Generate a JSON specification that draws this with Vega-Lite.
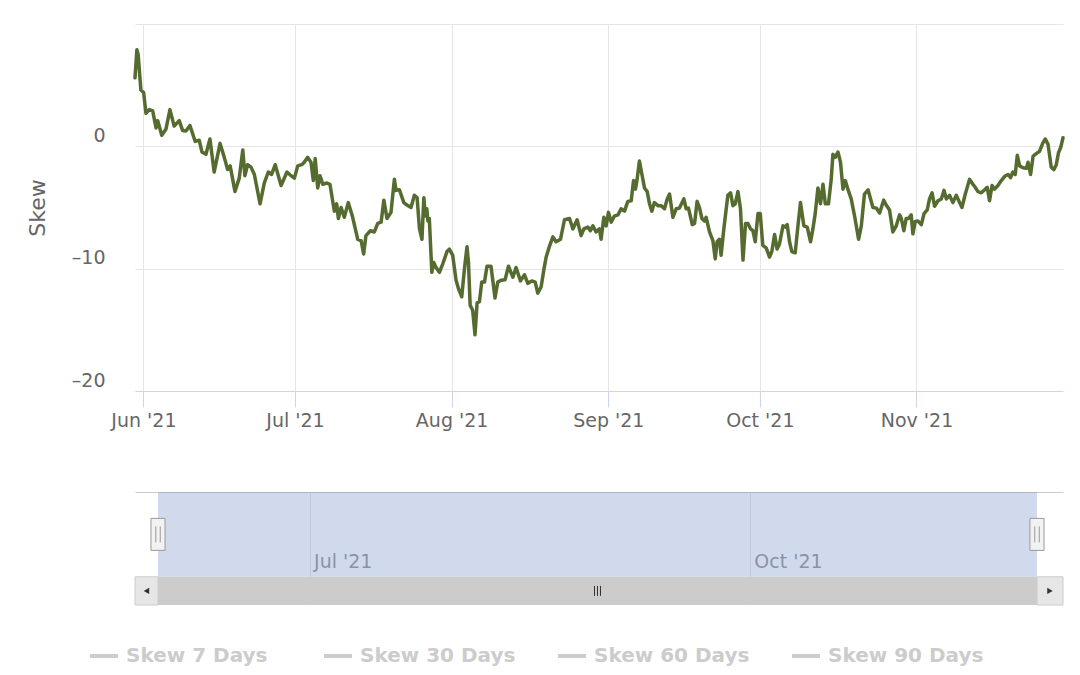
{
  "$schema": "https://vega.github.io/schema/vega-lite/v6.json",
  "background": "white",
  "padding": {"left": 26, "top": 4, "right": 18, "bottom": 1},
  "config": {
    "view": {"stroke": null},
    "font": "DejaVu Sans",
    "axis": {"labelFont": "DejaVu Sans", "titleFont": "DejaVu Sans"},
    "legend": {"labelFont": "DejaVu Sans"}
  },
  "datasets": {
    "skew": [
      {"date":"2021-05-30T08:00","skew":5.6},
      {"date":"2021-05-30T17:00","skew":7.9},
      {"date":"2021-05-30T23:00","skew":7.5},
      {"date":"2021-05-31T12:00","skew":4.6},
      {"date":"2021-06-01T01:00","skew":4.4},
      {"date":"2021-06-01T12:00","skew":2.7},
      {"date":"2021-06-02T04:00","skew":3.0},
      {"date":"2021-06-02T20:00","skew":2.9},
      {"date":"2021-06-03T12:00","skew":1.5},
      {"date":"2021-06-03T20:00","skew":2.1},
      {"date":"2021-06-04T15:00","skew":0.9},
      {"date":"2021-06-05T11:00","skew":1.4},
      {"date":"2021-06-06T06:00","skew":3.0},
      {"date":"2021-06-07T02:00","skew":1.65},
      {"date":"2021-06-08T02:00","skew":2.1},
      {"date":"2021-06-08T18:00","skew":1.3},
      {"date":"2021-06-09T10:00","skew":1.25},
      {"date":"2021-06-10T05:00","skew":1.7},
      {"date":"2021-06-11T06:00","skew":0.4},
      {"date":"2021-06-12T01:00","skew":0.5},
      {"date":"2021-06-12T14:00","skew":-0.46},
      {"date":"2021-06-13T09:00","skew":-0.65},
      {"date":"2021-06-14T04:00","skew":0.6},
      {"date":"2021-06-15T00:00","skew":-2.1},
      {"date":"2021-06-16T04:00","skew":0.24},
      {"date":"2021-06-17T00:00","skew":-0.9},
      {"date":"2021-06-17T16:00","skew":-1.9},
      {"date":"2021-06-18T04:00","skew":-1.6},
      {"date":"2021-06-19T03:00","skew":-3.7},
      {"date":"2021-06-19T23:00","skew":-2.6},
      {"date":"2021-06-20T16:00","skew":-0.3},
      {"date":"2021-06-21T02:00","skew":-2.4},
      {"date":"2021-06-21T15:00","skew":-1.5},
      {"date":"2021-06-22T07:00","skew":-1.7},
      {"date":"2021-06-22T23:00","skew":-2.3},
      {"date":"2021-06-24T02:00","skew":-4.7},
      {"date":"2021-06-24T22:00","skew":-3.0},
      {"date":"2021-06-25T17:00","skew":-2.1},
      {"date":"2021-06-26T09:00","skew":-2.3},
      {"date":"2021-06-27T02:00","skew":-1.5},
      {"date":"2021-06-28T06:00","skew":-3.2},
      {"date":"2021-06-29T10:00","skew":-2.1},
      {"date":"2021-06-30T05:00","skew":-2.4},
      {"date":"2021-06-30T21:00","skew":-2.6},
      {"date":"2021-07-01T13:00","skew":-1.6},
      {"date":"2021-07-02T08:00","skew":-1.5},
      {"date":"2021-07-02T20:00","skew":-1.3},
      {"date":"2021-07-03T12:00","skew":-0.9},
      {"date":"2021-07-04T04:00","skew":-1.3},
      {"date":"2021-07-04T15:00","skew":-2.8},
      {"date":"2021-07-05T00:00","skew":-1.0},
      {"date":"2021-07-05T12:00","skew":-3.4},
      {"date":"2021-07-05T23:00","skew":-2.4},
      {"date":"2021-07-06T12:00","skew":-3.1},
      {"date":"2021-07-07T08:00","skew":-3.0},
      {"date":"2021-07-07T22:00","skew":-3.1},
      {"date":"2021-07-08T19:00","skew":-5.3},
      {"date":"2021-07-09T06:00","skew":-4.7},
      {"date":"2021-07-09T14:00","skew":-5.9},
      {"date":"2021-07-10T03:00","skew":-5.0},
      {"date":"2021-07-10T18:00","skew":-5.8},
      {"date":"2021-07-11T13:00","skew":-4.6},
      {"date":"2021-07-12T10:00","skew":-5.8},
      {"date":"2021-07-13T10:00","skew":-7.6},
      {"date":"2021-07-14T02:00","skew":-7.7},
      {"date":"2021-07-14T14:00","skew":-8.8},
      {"date":"2021-07-15T01:00","skew":-7.3},
      {"date":"2021-07-15T22:00","skew":-6.9},
      {"date":"2021-07-16T17:00","skew":-7.0},
      {"date":"2021-07-17T09:00","skew":-6.3},
      {"date":"2021-07-18T01:00","skew":-6.2},
      {"date":"2021-07-18T14:00","skew":-4.4},
      {"date":"2021-07-19T05:00","skew":-5.9},
      {"date":"2021-07-20T00:00","skew":-5.4},
      {"date":"2021-07-20T16:00","skew":-2.7},
      {"date":"2021-07-21T00:00","skew":-3.6},
      {"date":"2021-07-21T16:00","skew":-3.55},
      {"date":"2021-07-22T13:00","skew":-4.6},
      {"date":"2021-07-23T04:00","skew":-4.8},
      {"date":"2021-07-23T23:00","skew":-5.0},
      {"date":"2021-07-24T15:00","skew":-4.0},
      {"date":"2021-07-25T04:00","skew":-4.2},
      {"date":"2021-07-25T15:00","skew":-6.7},
      {"date":"2021-07-26T03:00","skew":-7.6},
      {"date":"2021-07-26T12:00","skew":-4.2},
      {"date":"2021-07-26T19:00","skew":-5.7},
      {"date":"2021-07-27T02:00","skew":-5.1},
      {"date":"2021-07-27T07:00","skew":-6.1},
      {"date":"2021-07-27T14:00","skew":-5.9},
      {"date":"2021-07-28T02:00","skew":-10.3},
      {"date":"2021-07-28T11:00","skew":-9.5},
      {"date":"2021-07-28T22:00","skew":-9.9},
      {"date":"2021-07-29T14:00","skew":-10.3},
      {"date":"2021-07-30T06:00","skew":-9.6},
      {"date":"2021-07-31T02:00","skew":-8.6},
      {"date":"2021-07-31T13:00","skew":-8.4},
      {"date":"2021-08-01T05:00","skew":-8.9},
      {"date":"2021-08-01T21:00","skew":-10.95},
      {"date":"2021-08-02T08:00","skew":-11.6},
      {"date":"2021-08-03T00:00","skew":-12.3},
      {"date":"2021-08-03T13:00","skew":-10.0},
      {"date":"2021-08-04T01:00","skew":-8.2},
      {"date":"2021-08-04T08:00","skew":-9.5},
      {"date":"2021-08-04T16:00","skew":-13.0},
      {"date":"2021-08-05T04:00","skew":-13.4},
      {"date":"2021-08-05T15:00","skew":-15.4},
      {"date":"2021-08-06T01:00","skew":-12.8},
      {"date":"2021-08-06T12:00","skew":-12.7},
      {"date":"2021-08-06T23:00","skew":-11.1},
      {"date":"2021-08-07T12:00","skew":-11.1},
      {"date":"2021-08-08T00:00","skew":-9.8},
      {"date":"2021-08-08T19:00","skew":-9.8},
      {"date":"2021-08-09T14:00","skew":-12.4},
      {"date":"2021-08-10T03:00","skew":-11.1},
      {"date":"2021-08-10T19:00","skew":-10.95},
      {"date":"2021-08-11T14:00","skew":-10.9},
      {"date":"2021-08-12T06:00","skew":-9.8},
      {"date":"2021-08-13T03:00","skew":-10.7},
      {"date":"2021-08-13T18:00","skew":-9.9},
      {"date":"2021-08-14T15:00","skew":-11.0},
      {"date":"2021-08-15T10:00","skew":-10.5},
      {"date":"2021-08-16T02:00","skew":-11.2},
      {"date":"2021-08-16T21:00","skew":-11.0},
      {"date":"2021-08-17T13:00","skew":-11.1},
      {"date":"2021-08-18T01:00","skew":-12.0},
      {"date":"2021-08-18T17:00","skew":-11.5},
      {"date":"2021-08-19T06:00","skew":-10.1},
      {"date":"2021-08-19T17:00","skew":-9.05},
      {"date":"2021-08-20T08:00","skew":-8.2},
      {"date":"2021-08-21T01:00","skew":-7.4},
      {"date":"2021-08-21T16:00","skew":-7.8},
      {"date":"2021-08-22T13:00","skew":-7.6},
      {"date":"2021-08-23T08:00","skew":-6.0},
      {"date":"2021-08-24T08:00","skew":-5.9},
      {"date":"2021-08-25T00:00","skew":-6.75},
      {"date":"2021-08-25T20:00","skew":-6.0},
      {"date":"2021-08-26T15:00","skew":-7.3},
      {"date":"2021-08-27T04:00","skew":-6.75},
      {"date":"2021-08-27T23:00","skew":-6.6},
      {"date":"2021-08-28T11:00","skew":-6.9},
      {"date":"2021-08-28T23:00","skew":-6.5},
      {"date":"2021-08-29T14:00","skew":-7.0},
      {"date":"2021-08-30T06:00","skew":-6.75},
      {"date":"2021-08-30T14:00","skew":-7.6},
      {"date":"2021-08-31T03:00","skew":-5.8},
      {"date":"2021-08-31T14:00","skew":-6.5},
      {"date":"2021-09-01T01:00","skew":-5.4},
      {"date":"2021-09-01T14:00","skew":-6.2},
      {"date":"2021-09-02T05:00","skew":-5.7},
      {"date":"2021-09-02T22:00","skew":-5.6},
      {"date":"2021-09-03T13:00","skew":-5.1},
      {"date":"2021-09-04T05:00","skew":-5.3},
      {"date":"2021-09-04T21:00","skew":-4.5},
      {"date":"2021-09-05T13:00","skew":-4.45},
      {"date":"2021-09-06T00:00","skew":-2.8},
      {"date":"2021-09-06T09:00","skew":-3.5},
      {"date":"2021-09-06T17:00","skew":-2.7},
      {"date":"2021-09-07T04:00","skew":-1.2},
      {"date":"2021-09-07T16:00","skew":-2.3},
      {"date":"2021-09-08T04:00","skew":-3.4},
      {"date":"2021-09-08T17:00","skew":-3.7},
      {"date":"2021-09-09T04:00","skew":-4.7},
      {"date":"2021-09-09T15:00","skew":-5.3},
      {"date":"2021-09-10T03:00","skew":-4.6},
      {"date":"2021-09-10T20:00","skew":-4.85},
      {"date":"2021-09-11T11:00","skew":-4.85},
      {"date":"2021-09-12T03:00","skew":-5.1},
      {"date":"2021-09-12T16:00","skew":-4.3},
      {"date":"2021-09-13T03:00","skew":-3.9},
      {"date":"2021-09-13T19:00","skew":-5.8},
      {"date":"2021-09-14T11:00","skew":-5.1},
      {"date":"2021-09-15T02:00","skew":-5.05},
      {"date":"2021-09-15T23:00","skew":-4.3},
      {"date":"2021-09-16T10:00","skew":-5.1},
      {"date":"2021-09-16T21:00","skew":-5.05},
      {"date":"2021-09-17T15:00","skew":-6.4},
      {"date":"2021-09-18T02:00","skew":-6.3},
      {"date":"2021-09-18T14:00","skew":-4.5},
      {"date":"2021-09-19T01:00","skew":-5.0},
      {"date":"2021-09-19T13:00","skew":-5.9},
      {"date":"2021-09-20T01:00","skew":-6.1},
      {"date":"2021-09-20T09:00","skew":-5.8},
      {"date":"2021-09-21T01:00","skew":-7.0},
      {"date":"2021-09-21T17:00","skew":-7.7},
      {"date":"2021-09-22T04:00","skew":-9.2},
      {"date":"2021-09-22T13:00","skew":-7.8},
      {"date":"2021-09-23T00:00","skew":-7.6},
      {"date":"2021-09-23T08:00","skew":-8.9},
      {"date":"2021-09-23T21:00","skew":-6.75},
      {"date":"2021-09-24T16:00","skew":-4.0},
      {"date":"2021-09-25T05:00","skew":-3.8},
      {"date":"2021-09-25T16:00","skew":-4.85},
      {"date":"2021-09-26T03:00","skew":-4.7},
      {"date":"2021-09-26T16:00","skew":-3.7},
      {"date":"2021-09-27T04:00","skew":-5.1},
      {"date":"2021-09-27T16:00","skew":-9.3},
      {"date":"2021-09-28T04:00","skew":-6.3},
      {"date":"2021-09-28T15:00","skew":-6.3},
      {"date":"2021-09-29T04:00","skew":-6.75},
      {"date":"2021-09-29T15:00","skew":-6.9},
      {"date":"2021-09-30T02:00","skew":-7.8},
      {"date":"2021-09-30T15:00","skew":-5.5},
      {"date":"2021-10-01T02:00","skew":-5.5},
      {"date":"2021-10-01T14:00","skew":-8.1},
      {"date":"2021-10-02T06:00","skew":-8.3},
      {"date":"2021-10-02T22:00","skew":-9.05},
      {"date":"2021-10-03T09:00","skew":-8.6},
      {"date":"2021-10-03T22:00","skew":-7.2},
      {"date":"2021-10-04T10:00","skew":-8.4},
      {"date":"2021-10-04T21:00","skew":-8.0},
      {"date":"2021-10-05T14:00","skew":-6.5},
      {"date":"2021-10-06T01:00","skew":-6.6},
      {"date":"2021-10-06T10:00","skew":-6.4},
      {"date":"2021-10-06T21:00","skew":-7.8},
      {"date":"2021-10-07T08:00","skew":-8.6},
      {"date":"2021-10-08T00:00","skew":-8.7},
      {"date":"2021-10-08T13:00","skew":-6.5},
      {"date":"2021-10-09T01:00","skew":-4.6},
      {"date":"2021-10-09T17:00","skew":-6.5},
      {"date":"2021-10-10T09:00","skew":-6.6},
      {"date":"2021-10-11T01:00","skew":-7.8},
      {"date":"2021-10-11T12:00","skew":-6.75},
      {"date":"2021-10-11T23:00","skew":-5.5},
      {"date":"2021-10-12T12:00","skew":-3.4},
      {"date":"2021-10-13T00:00","skew":-4.7},
      {"date":"2021-10-13T12:00","skew":-3.1},
      {"date":"2021-10-13T23:00","skew":-4.7},
      {"date":"2021-10-14T14:00","skew":-4.7},
      {"date":"2021-10-15T03:00","skew":-2.7},
      {"date":"2021-10-15T11:00","skew":-0.65},
      {"date":"2021-10-15T22:00","skew":-0.9},
      {"date":"2021-10-16T11:00","skew":-0.46},
      {"date":"2021-10-16T23:00","skew":-1.3},
      {"date":"2021-10-17T11:00","skew":-3.5},
      {"date":"2021-10-17T22:00","skew":-2.8},
      {"date":"2021-10-18T10:00","skew":-3.5},
      {"date":"2021-10-19T02:00","skew":-4.3},
      {"date":"2021-10-19T18:00","skew":-5.7},
      {"date":"2021-10-20T13:00","skew":-7.6},
      {"date":"2021-10-21T02:00","skew":-6.5},
      {"date":"2021-10-21T17:00","skew":-3.9},
      {"date":"2021-10-22T10:00","skew":-3.55},
      {"date":"2021-10-22T22:00","skew":-4.3},
      {"date":"2021-10-23T09:00","skew":-5.0},
      {"date":"2021-10-24T01:00","skew":-5.05},
      {"date":"2021-10-24T17:00","skew":-5.45},
      {"date":"2021-10-25T12:00","skew":-4.4},
      {"date":"2021-10-26T00:00","skew":-4.8},
      {"date":"2021-10-26T16:00","skew":-5.2},
      {"date":"2021-10-27T08:00","skew":-7.0},
      {"date":"2021-10-28T00:00","skew":-6.5},
      {"date":"2021-10-28T16:00","skew":-5.6},
      {"date":"2021-10-29T00:00","skew":-5.9},
      {"date":"2021-10-29T12:00","skew":-6.9},
      {"date":"2021-10-29T23:00","skew":-5.9},
      {"date":"2021-10-30T10:00","skew":-5.9},
      {"date":"2021-10-30T23:00","skew":-5.6},
      {"date":"2021-10-31T07:00","skew":-7.15},
      {"date":"2021-10-31T18:00","skew":-6.15},
      {"date":"2021-11-01T07:00","skew":-6.1},
      {"date":"2021-11-01T23:00","skew":-6.4},
      {"date":"2021-11-02T12:00","skew":-5.5},
      {"date":"2021-11-03T03:00","skew":-5.2},
      {"date":"2021-11-03T14:00","skew":-4.3},
      {"date":"2021-11-04T02:00","skew":-3.8},
      {"date":"2021-11-04T14:00","skew":-4.9},
      {"date":"2021-11-05T06:00","skew":-4.45},
      {"date":"2021-11-05T22:00","skew":-4.3},
      {"date":"2021-11-06T11:00","skew":-3.6},
      {"date":"2021-11-06T22:00","skew":-4.3},
      {"date":"2021-11-07T13:00","skew":-4.0},
      {"date":"2021-11-08T05:00","skew":-4.6},
      {"date":"2021-11-08T21:00","skew":-4.0},
      {"date":"2021-11-09T13:00","skew":-4.6},
      {"date":"2021-11-10T00:00","skew":-5.0},
      {"date":"2021-11-10T16:00","skew":-3.9},
      {"date":"2021-11-11T12:00","skew":-2.7},
      {"date":"2021-11-12T04:00","skew":-3.1},
      {"date":"2021-11-12T15:00","skew":-3.35},
      {"date":"2021-11-13T04:00","skew":-3.7},
      {"date":"2021-11-13T20:00","skew":-3.8},
      {"date":"2021-11-14T12:00","skew":-3.55},
      {"date":"2021-11-15T00:00","skew":-3.35},
      {"date":"2021-11-15T11:00","skew":-4.45},
      {"date":"2021-11-15T23:00","skew":-3.2},
      {"date":"2021-11-16T11:00","skew":-3.5},
      {"date":"2021-11-17T03:00","skew":-3.2},
      {"date":"2021-11-17T19:00","skew":-2.8},
      {"date":"2021-11-18T11:00","skew":-2.45},
      {"date":"2021-11-19T03:00","skew":-2.3},
      {"date":"2021-11-19T15:00","skew":-2.55},
      {"date":"2021-11-20T02:00","skew":-2.1},
      {"date":"2021-11-20T13:00","skew":-2.3},
      {"date":"2021-11-20T23:00","skew":-0.73},
      {"date":"2021-11-21T10:00","skew":-1.6},
      {"date":"2021-11-22T02:00","skew":-1.75},
      {"date":"2021-11-22T18:00","skew":-1.8},
      {"date":"2021-11-23T02:00","skew":-1.3},
      {"date":"2021-11-23T14:00","skew":-2.3},
      {"date":"2021-11-24T02:00","skew":-0.8},
      {"date":"2021-11-24T17:00","skew":-0.6},
      {"date":"2021-11-25T09:00","skew":-0.4},
      {"date":"2021-11-26T01:00","skew":0.3},
      {"date":"2021-11-26T12:00","skew":0.6},
      {"date":"2021-11-27T01:00","skew":0.16},
      {"date":"2021-11-27T16:00","skew":-1.7},
      {"date":"2021-11-28T05:00","skew":-1.9},
      {"date":"2021-11-28T16:00","skew":-1.5},
      {"date":"2021-11-29T03:00","skew":-0.5},
      {"date":"2021-11-29T13:00","skew":-0.1},
      {"date":"2021-11-30T00:00","skew":0.7}
    ],
    "navchrome": [
      {"part":"left","start":"2021-05-25T12:40","end":"2021-05-30T08:00","mid":"2021-05-27T22:00"},
      {"part":"right","start":"2021-11-30T00:00","end":"2021-12-05T10:24","mid":"2021-12-02T17:00"},
      {"part":"grip","mid":"2021-08-30T04:00"}
    ],
    "series": [
      {"series":"Skew 7 Days"},
      {"series":"Skew 30 Days"},
      {"series":"Skew 60 Days"},
      {"series":"Skew 90 Days"}
    ]
  },
  "spacing": 101,
  "bounds": "flush",
  "vconcat": [
    {
      "width": 928,
      "height": 367,
      "data": {"name": "skew"},
      "mark": {"type": "line", "color": "#556b2f", "strokeWidth": 3.5, "strokeJoin": "round", "strokeCap": "round"},
      "encoding": {
        "x": {
          "field": "date", "type": "temporal",
          "scale": {"domain": [{"year":2021,"month":5,"date":30,"hours":8},{"year":2021,"month":11,"date":30}], "nice": false},
          "axis": {
            "title": null,
            "values": [{"year":2021,"month":6,"date":1},{"year":2021,"month":7,"date":1},{"year":2021,"month":8,"date":1},{"year":2021,"month":9,"date":1},{"year":2021,"month":10,"date":1},{"year":2021,"month":11,"date":1}],
            "format": "%b '%y",
            "grid": true, "gridColor": "#e6e6e6",
            "domainColor": "#ccd6eb", "tickColor": "#ccd6eb", "tickSize": 16,
            "labelPadding": 4, "labelFontSize": 19, "labelColor": "#666666",
            "labelFlush": false, "labelOverlap": false
          }
        },
        "y": {
          "field": "skew", "type": "quantitative",
          "scale": {"domain": [-20, 10], "nice": false, "zero": false},
          "axis": {
            "title": "Skew",
            "values": [-20, -10, 0, 10],
            "grid": true, "gridColor": "#e6e6e6",
            "domain": false, "ticks": false,
            "labelPadding": 30, "labelFontSize": 19, "labelColor": "#666666",
            "labelBaseline": "middle", "labelOffset": -11,
            "labelFlush": false, "labelOverlap": false,
            "labelExpr": "datum.value == 10 ? '' : replace(datum.label, '−', '–')",
            "titleFontSize": 22, "titleColor": "#666666", "titleFontWeight": "normal", "titlePadding": 22
          }
        }
      }
    },
    {
      "width": 928,
      "height": 113,
      "resolve": {"axis": {"x": "independent"}},
      "layer": [
        {
          "data": {"name": "skew", "format": {"parse": {"date": "date"}}},
          "transform": [{"aggregate": [{"op": "min", "field": "date", "as": "start"}, {"op": "max", "field": "date", "as": "end"}]}],
          "mark": {"type": "rect", "color": "#6685c2", "opacity": 0.3},
          "encoding": {
            "x": {
              "field": "start", "type": "temporal",
              "scale": {"domain": [{"year":2021,"month":5,"date":25,"hours":12,"minutes":40},{"year":2021,"month":12,"date":5,"hours":10,"minutes":24}], "nice": false},
              "axis": {
                "orient": "bottom", "title": null, "domain": false, "ticks": false, "tickSize": 0,
                "grid": true, "gridColor": "#e6e6e6",
                "values": [{"year":2021,"month":7,"date":1},{"year":2021,"month":10,"date":1}],
                "format": "%b '%y",
                "labelAlign": "left", "labelBaseline": "alphabetic", "labelPadding": -38, "labelOffset": 4,
                "labelFontSize": 19, "labelColor": "#999999", "labelFlush": false, "labelOverlap": false
              }
            },
            "x2": {"field": "end"},
            "y": {"datum": 0, "type": "quantitative", "scale": {"domain": [-1, 3], "nice": false, "zero": false}, "axis": null},
            "y2": {"datum": 3}
          }
        },
        {
          "data": {"name": "skew", "format": {"parse": {"date": "date"}}},
          "transform": [
            {"aggregate": [{"op": "min", "field": "date", "as": "start"}, {"op": "max", "field": "date", "as": "end"}]},
            {"fold": ["start", "end"], "as": ["edge", "when"]}
          ],
          "mark": {"type": "point", "shape": "M -0.44 -1 H 0.44 V 1 H -0.44 Z M -0.14 -0.5 V 0.5 M 0.14 -0.5 V 0.5", "filled": true, "fill": "#f2f2f2", "stroke": "#999999", "strokeWidth": 1, "opacity": 1, "size": 1024},
          "encoding": {
            "x": {
              "field": "when", "type": "temporal",
              "axis": {"orient": "top", "title": null, "domain": true, "domainColor": "#cccccc", "ticks": false, "labels": false, "grid": false}
            },
            "y": {"datum": 1.5, "type": "quantitative"}
          }
        },
        {
          "data": {"name": "navchrome"},
          "transform": [{"filter": "datum.part != 'grip'"}],
          "mark": {"type": "rect", "fill": "#e6e6e6", "stroke": "#cccccc", "strokeWidth": 1},
          "encoding": {
            "x": {"field": "start", "type": "temporal", "axis": null},
            "x2": {"field": "end"},
            "y": {"datum": -1, "type": "quantitative"},
            "y2": {"datum": 0}
          }
        },
        {
          "data": {"name": "skew", "format": {"parse": {"date": "date"}}},
          "transform": [{"aggregate": [{"op": "min", "field": "date", "as": "start"}, {"op": "max", "field": "date", "as": "end"}]}],
          "mark": {"type": "rect", "fill": "#cccccc"},
          "encoding": {
            "x": {"field": "start", "type": "temporal", "axis": null},
            "x2": {"field": "end"},
            "y": {"datum": -1, "type": "quantitative"},
            "y2": {"datum": 0}
          }
        },
        {
          "data": {"name": "navchrome"},
          "transform": [{"filter": "datum.part == 'left'"}],
          "mark": {"type": "point", "shape": "triangle-left", "filled": true, "color": "#333333", "opacity": 1, "size": 40},
          "encoding": {
            "x": {"field": "mid", "type": "temporal", "axis": null},
            "y": {"datum": -0.5, "type": "quantitative"}
          }
        },
        {
          "data": {"name": "navchrome"},
          "transform": [{"filter": "datum.part == 'right'"}],
          "mark": {"type": "point", "shape": "triangle-right", "filled": true, "color": "#333333", "opacity": 1, "size": 40},
          "encoding": {
            "x": {"field": "mid", "type": "temporal", "axis": null},
            "y": {"datum": -0.5, "type": "quantitative"}
          }
        },
        {
          "data": {"name": "navchrome"},
          "transform": [{"filter": "datum.part == 'grip'"}],
          "mark": {"type": "point", "shape": "M -0.6 -1 V 1 M 0 -1 V 1 M 0.6 -1 V 1", "filled": false, "color": "#333333", "strokeWidth": 1, "opacity": 1, "size": 100},
          "encoding": {
            "x": {"field": "mid", "type": "temporal", "axis": null},
            "y": {"datum": -0.5, "type": "quantitative"}
          }
        },
        {
          "data": {"name": "series"},
          "mark": {"type": "point", "opacity": 0},
          "encoding": {
            "color": {
              "field": "series", "type": "nominal",
              "scale": {"domain": ["Skew 7 Days", "Skew 30 Days", "Skew 60 Days", "Skew 90 Days"], "range": ["#cccccc", "#cccccc", "#cccccc", "#cccccc"]},
              "legend": {
                "orient": "none", "legendX": -47, "legendY": 616, "direction": "horizontal", "title": null,
                "symbolType": "stroke", "symbolStrokeWidth": 4, "symbolSize": 784, "symbolOpacity": 1,
                "symbolStrokeColor": "#cccccc",
                "labelFontSize": 20, "labelFontWeight": "bold", "labelColor": "#cccccc",
                "labelOffset": 6, "columnPadding": 34, "gridAlign": "all", "labelLimit": 0
              }
            }
          }
        }
      ]
    }
  ]
}
